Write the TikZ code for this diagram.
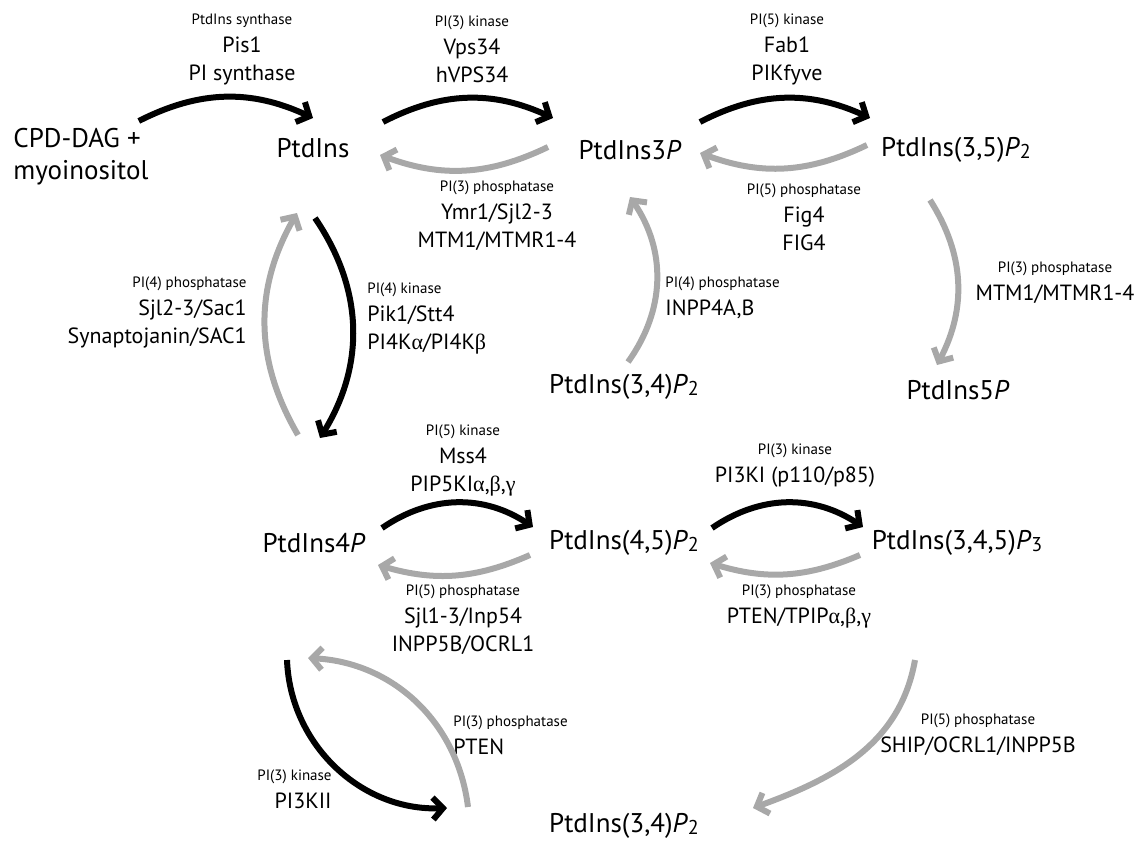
\documentclass[tikz,border=0pt]{standalone}
\usepackage{fontspec}
\setmainfont{PT Sans}
\newfontfamily\greekfont{Liberation Serif}
\usetikzlibrary{arrows.meta,calc}
\definecolor{phosgray}{RGB}{168,168,168}
\newcommand{\Pn}[1]{\textit{P}\raisebox{-0.15ex}{\fontsize{10}{10}\selectfont #1}}
\newcommand{\enzname}[1]{{\fontsize{7.5}{9}\selectfont #1}}
\newcommand{\gk}[1]{{\greekfont #1}}
\tikzset{
  lipid/.style={font=\fontsize{13.5}{14}\selectfont, inner sep=0pt},
  enzyme/.style={font=\fontsize{11}{14}\selectfont, align=center, inner sep=0pt},
  kinase/.style={line width=3pt, -{Straight Barb[length=5pt,width=11pt]}},
  phosphatase/.style={kinase, phosgray},
}
\begin{document}
\begin{tikzpicture}[x=0.5pt,y=-0.5pt]
  \useasboundingbox (0,0) rectangle (1141,842);
  % lipids
  \node[lipid, font=\fontsize{13.5}{16}\selectfont, align=left, anchor=west] (cpd) at (13,157) {CPD-DAG +\\myoinositol};
  \node[lipid] (ptdins) at (313,148) {PtdIns};
  \node[lipid] (ptdins3p) at (630,150) {PtdIns3\textit{P}};
  \node[lipid] (ptdins35) at (956,150) {PtdIns(3,5)\Pn{2}};
  \node[lipid] (ptdins34a) at (624,387) {PtdIns(3,4)\Pn{2}};
  \node[lipid] (ptdins5p) at (958,390) {PtdIns5\textit{P}};
  \node[lipid] (ptdins4p) at (314,543) {PtdIns4\textit{P}};
  \node[lipid] (ptdins45) at (624,543) {PtdIns(4,5)\Pn{2}};
  \node[lipid] (ptdins345) at (957,543) {PtdIns(3,4,5)\Pn{3}};
  \node[lipid] (ptdins34b) at (624,826) {PtdIns(3,4)\Pn{2}};
  % enzymes
  \node[enzyme] (synth) at (242,49) {\enzname{PtdIns synthase}\\Pis1\\PI synthase};
  \node[enzyme] (vps) at (472,49) {\enzname{PI(3) kinase}\\Vps34\\hVPS34};
  \node[enzyme] (fab) at (787,49) {\enzname{PI(5) kinase}\\Fab1\\PIKfyve};
  \node[enzyme] (ymr) at (497,216) {\enzname{PI(3) phosphatase}\\Ymr1/Sjl2-3\\MTM1/MTMR1-4};
  \node[enzyme] (fig) at (804,217) {\enzname{PI(5) phosphatase}\\Fig4\\FIG4};
  \node[enzyme, align=right, anchor=east] (sac) at (247,312) {\enzname{PI(4) phosphatase}\\Sjl2-3/Sac1\\Synaptojanin/SAC1};
  \node[enzyme, align=left, anchor=west] (pik) at (367,318) {\enzname{PI(4) kinase}\\Pik1/Stt4\\PI4K\gk{α}/PI4K\gk{β}};
  \node[enzyme, align=left, anchor=west] (inpp4) at (665,298) {\enzname{PI(4) phosphatase}\\INPP4A,B};
  \node[enzyme] (mtm) at (1055,283) {\enzname{PI(3) phosphatase}\\MTM1/MTMR1-4};
  \node[enzyme] (mss) at (463,460) {\enzname{PI(5) kinase}\\Mss4\\PIP5KI\gk{α},\gk{β},\gk{γ}};
  \node[enzyme] (sjl) at (463,620) {\enzname{PI(5) phosphatase}\\Sjl1-3/Inp54\\INPP5B/OCRL1};
  \node[enzyme] (pi3ki) at (795,466) {\enzname{PI(3) kinase}\\PI3KI (p110/p85)};
  \node[enzyme] (tpip) at (799,606) {\enzname{PI(3) phosphatase}\\PTEN/TPIP\gk{α},\gk{β},\gk{γ}};
  \node[enzyme, align=left, anchor=west] (pten) at (453,735) {\enzname{PI(3) phosphatase}\\PTEN};
  \node[enzyme, align=right, anchor=east] (pi3kii) at (332,789) {\enzname{PI(3) kinase}\\PI3KII};
  \node[enzyme] (ship) at (978,735) {\enzname{PI(5) phosphatase}\\SHIP/OCRL1/INPP5B};
  % top row
  \draw[kinase] ($(cpd.east)+(-10,-36)$) to[bend left=26] ($(ptdins)+(0,-30)$);
  \draw[kinase] ($(ptdins)+(70,-26)$) to[bend left=26] ($(ptdins3p)+(-77,-32)$);
  \draw[phosphatase] ($(ptdins3p)+(-82,-3)$) to[bend left=23] ($(ptdins)+(67,7)$);
  \draw[kinase] ($(ptdins3p)+(70,-28)$) to[bend left=26] ($(ptdins35)+(-86,-32)$);
  \draw[phosphatase] ($(ptdins35)+(-89,-5)$) to[bend left=23] ($(ptdins3p)+(70,3)$);
  % verticals
  \draw[phosphatase] ($(ptdins4p)+(-16,-108)$) to[bend left=30] ($(ptdins)+(-16,65)$);
  \draw[kinase] ($(ptdins)+(2,70)$) to[bend left=33] ($(ptdins4p)+(6,-105)$);
  \draw[phosphatase] ($(ptdins34a)+(4,-25)$) to[bend right=35] ($(ptdins3p)+(0,47)$);
  \draw[phosphatase] ($(ptdins35)+(-26,50)$) to[bend left=30] ($(ptdins5p)+(-21,-25)$);
  % middle row
  \draw[kinase] ($(ptdins4p)+(68,-15)$) to[bend left=34] ($(ptdins45)+(-91,-16)$);
  \draw[phosphatase] ($(ptdins45)+(-94,12)$) to[bend left=20] ($(ptdins4p)+(64,22)$);
  \draw[kinase] ($(ptdins45)+(88,-15)$) to[bend left=34] ($(ptdins345)+(-94,-16)$);
  \draw[phosphatase] ($(ptdins345)+(-97,12)$) to[bend left=20] ($(ptdins45)+(86,20)$);
  % bottom
  \draw[kinase] ($(ptdins4p)+(-27,117)$) to[bend right=45] ($(ptdins34b)+(-177,-18)$);
  \draw[phosphatase] ($(ptdins34b)+(-156,-19)$) to[bend right=40] ($(ptdins4p)+(-6,115)$);
  \draw[phosphatase] ($(ptdins345)+(-42,117)$) to[out=-100,in=20] ($(ptdins34b)+(129,-18)$);
\end{tikzpicture}
\end{document}
